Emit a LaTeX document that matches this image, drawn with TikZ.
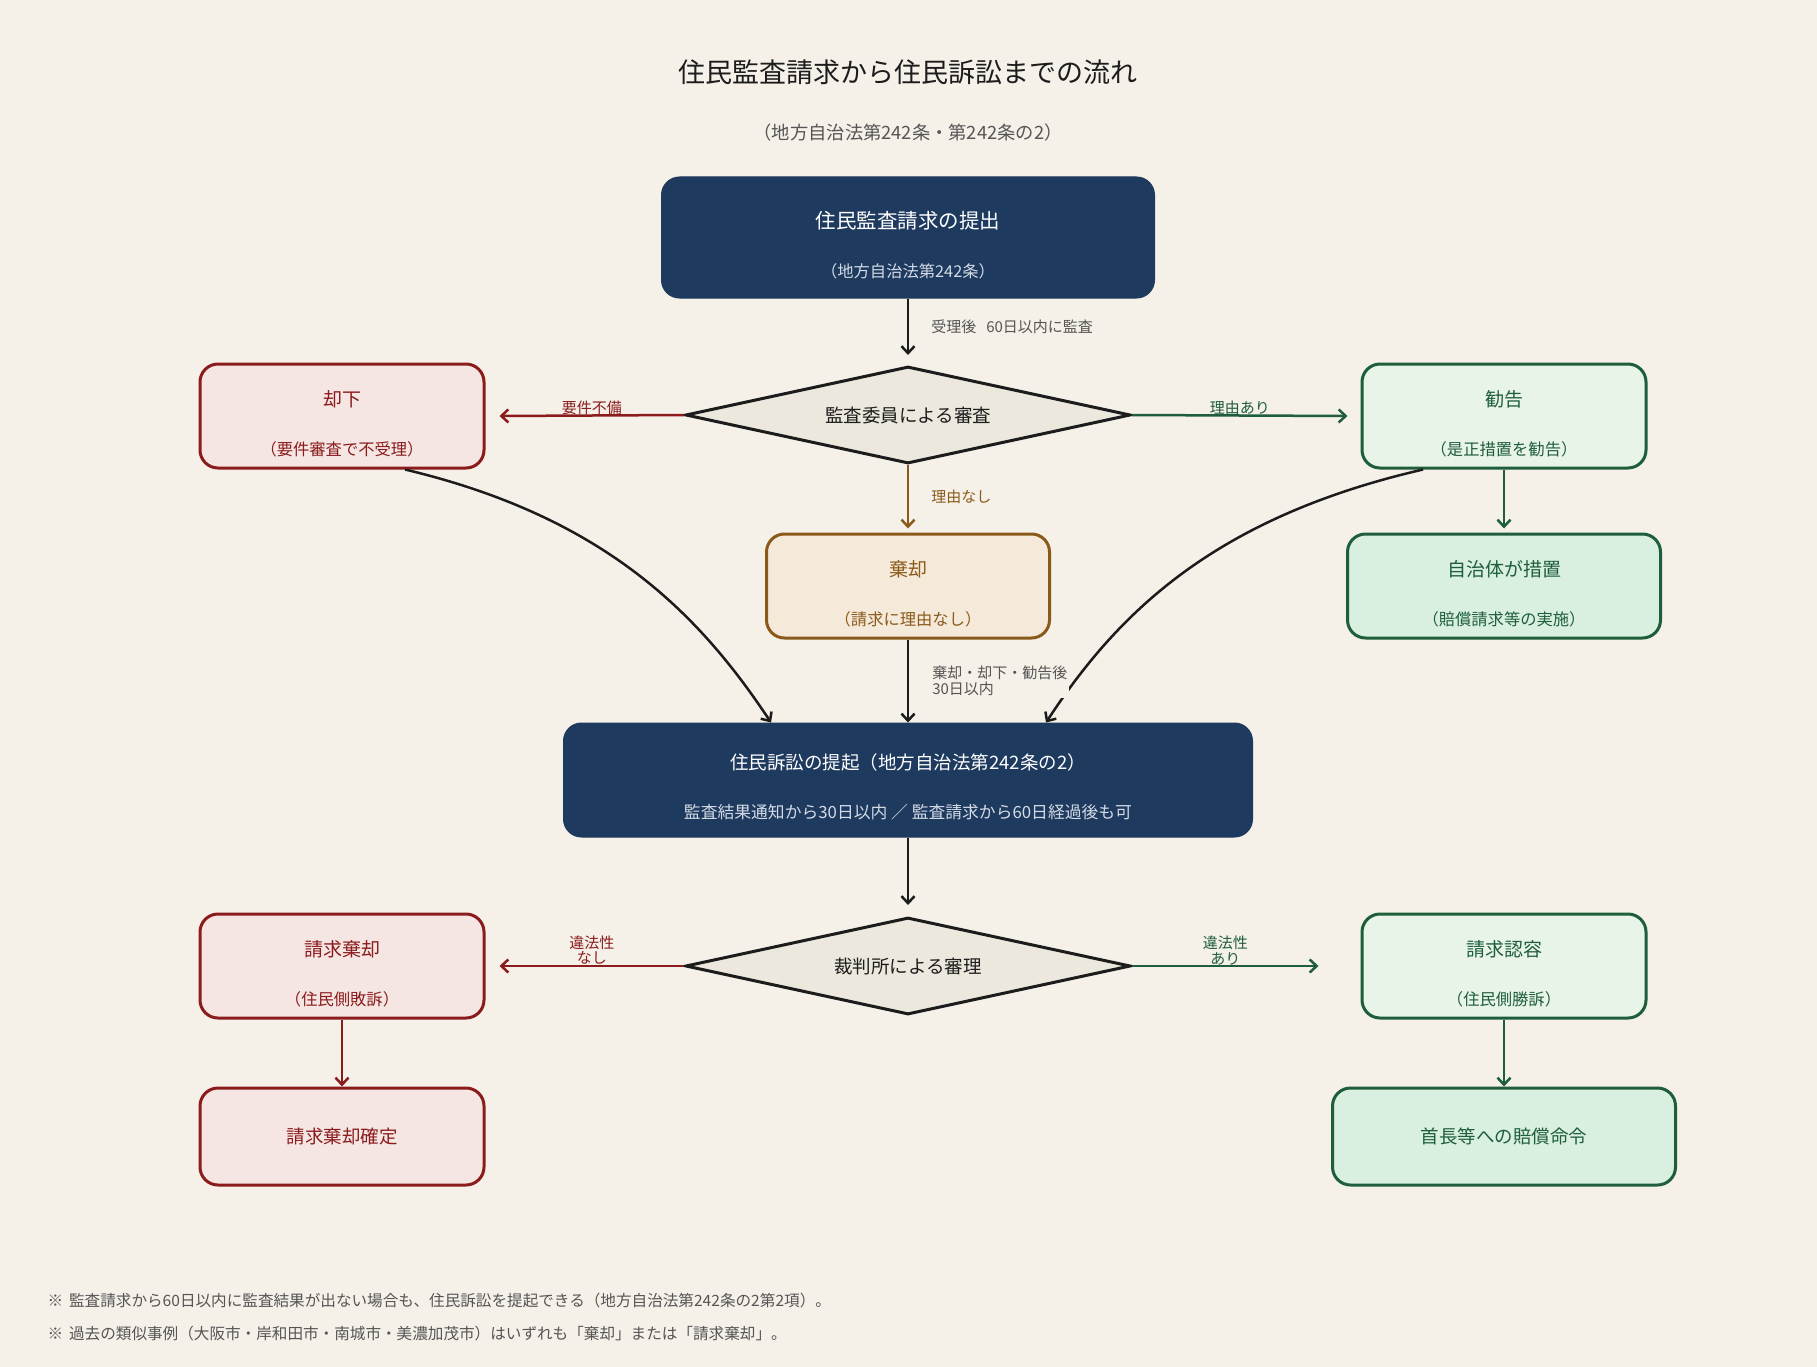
\documentclass[tikz,border=0pt]{standalone}
\usepackage{fontspec}
\setmainfont{Noto Sans CJK JP}
\usetikzlibrary{arrows.meta,shapes.geometric}

\definecolor{bg}{HTML}{F5F0E8}
\definecolor{ink}{HTML}{1C1C1C}
\definecolor{grey}{HTML}{555555}
\definecolor{navy}{HTML}{1F3A5F}
\definecolor{navysub}{HTML}{D3DBE6}
\definecolor{redline}{HTML}{8B1C1C}
\definecolor{redfill}{HTML}{F5E6E4}
\definecolor{greenline}{HTML}{1E5E3B}
\definecolor{greenfill}{HTML}{E8F4E8}
\definecolor{greendeep}{HTML}{D9EFE0}
\definecolor{brownline}{HTML}{8B5A1B}
\definecolor{brownfill}{HTML}{F5EADA}
\definecolor{diafill}{HTML}{EDE8DD}

% title line, sub line (the rule pushes the pair down a little)
\newcommand{\boxtext}[2]{{\fontsize{19}{22}\selectfont\rule{0pt}{31pt}#1}\\[31pt]{#2}}

\begin{document}
\begin{tikzpicture}[x=1pt,y=-1pt,
    box/.style = {rectangle,rounded corners=18pt,line width=3pt,minimum width=284pt,minimum height=104pt,
                  align=center,inner sep=0pt,font=\fontsize{16.3}{18}\selectfont},
    redbox/.style = {box,draw=redline,fill=redfill,text=redline},
    greenbox/.style = {box,draw=greenline,fill=greenfill,text=greenline},
    navybox/.style = {box,draw=navy,fill=navy,text=white,line width=1pt},
    decision/.style = {diamond,aspect=4.6,draw=ink,fill=diafill,line width=3pt,minimum width=445pt,minimum height=97pt,
                       inner sep=0pt,text=ink,font=\fontsize{18.5}{22}\selectfont},
    arr/.style = {-{Straight Barb[length=7pt,width=13pt]},line width=2.5pt},
    lbl/.style = {inner sep=0pt,font=\fontsize{15}{15.5}\selectfont}]

\fill[bg] (0,0) rectangle (1817,1367);
\useasboundingbox (0,0) rectangle (1817,1367);

% heading
\node[text=ink,font=\fontsize{27}{32}\selectfont] (title) at (908,72) {住民監査請求から住民訴訟までの流れ};
\node[text=grey,font=\fontsize{18.3}{22}\selectfont] (subtitle) at (908,133) {（地方自治法第242条・第242条の2）};

% audit stage
\node[navybox,minimum width=493pt,minimum height=121pt] (teishutsu) at (908,237.5)
    {{\fontsize{20.5}{24}\selectfont\rule{0pt}{32pt}住民監査請求の提出}\\[31pt]{\color{navysub}（地方自治法第242条）}};
\node[decision] (shinsa) at (908,415) {監査委員による審査};
\node[redbox] (kyakka) at (342,416) {\boxtext{却下}{（要件審査で不受理）}};
\node[greenbox] (kankoku) at (1504,416) {\boxtext{勧告}{（是正措置を勧告）}};
\node[box,draw=brownline,fill=brownfill,text=brownline,minimum width=283pt] (kikyaku) at (908,586) {\boxtext{棄却}{（請求に理由なし）}};
\node[greenbox,fill=greendeep,minimum width=313pt] (sochi) at (1504,586) {\boxtext{自治体が措置}{（賠償請求等の実施）}};

% lawsuit stage
\node[navybox,minimum width=689pt,minimum height=114pt,font=\fontsize{16.8}{18}\selectfont] (teiki) at (908,780)
    {{\fontsize{18.5}{22}\selectfont\rule{0pt}{30pt}住民訴訟の提起（地方自治法第242条の2）}\\[31pt]{\color{navysub}監査結果通知から30日以内 ／ 監査請求から60日経過後も可}};
\node[decision] (shinri) at (908,966) {裁判所による審理};
\node[redbox] (seikyu) at (342,966) {\boxtext{請求棄却}{（住民側敗訴）}};
\node[greenbox] (ninyo) at (1504,966) {\boxtext{請求認容}{（住民側勝訴）}};
\node[redbox,minimum height=97pt,font=\fontsize{18.5}{22}\selectfont] (kakutei) at (342,1136.5) {請求棄却確定};
\node[greenbox,fill=greendeep,minimum width=343pt,minimum height=97pt,font=\fontsize{18.5}{22}\selectfont] (baisho) at (1504,1136.5) {首長等への賠償命令};

% connectors
\draw[arr,ink] (teishutsu.south) -- ([yshift=10pt]shinsa.north)
    node[midway,lbl,right=22pt,text=grey] {受理後\hspace{10pt}60日以内に監査};
\draw[arr,redline] (shinsa.west) -- ([xshift=14pt]kyakka.east) node[midway,lbl,above,text=redline] {要件不備};
\draw[arr,greenline] (shinsa.east) -- ([xshift=-13pt]kankoku.west) node[midway,lbl,above,text=greenline] {理由あり};
\draw[arr,brownline] (shinsa.south) -- ([yshift=4pt]kikyaku.north)
    node[midway,lbl,right=22pt,text=brownline] {理由なし};
\draw[arr,greenline] (kankoku.south) -- ([yshift=4pt]sochi.north);

\draw[arr,ink] ([xshift=63pt]kyakka.south) .. controls (605,517) and (699,614) .. ([xshift=-137pt]teiki.north);
\draw[arr,ink] ([xshift=-81pt]kankoku.south) .. controls (1213,518) and (1117,614) .. ([xshift=138pt]teiki.north);
\draw[arr,ink] (kikyaku.south) -- (teiki.north)
    node[midway,lbl,right=21pt,align=left,text=grey,fill=bg,inner sep=2pt] {棄却・却下・勧告後\\30日以内};

\draw[arr,ink] (teiki.south) -- ([yshift=11pt]shinri.north);
\draw[arr,redline] (shinri.west) -- ([xshift=14pt]seikyu.east)
    node[midway,lbl,above,align=center,text=redline] {違法性\\なし};
\draw[arr,greenline] (shinri.east) -- ([xshift=-42pt]ninyo.west)
    node[midway,lbl,above,align=center,text=greenline] {違法性\\あり};
\draw[arr,redline] (seikyu.south) -- (kakutei.north);
\draw[arr,greenline] (ninyo.south) -- (baisho.north);

% notes
\node[anchor=west,text=grey,font=\fontsize{15.6}{18}\selectfont] (note1) at (44,1301)
    {※\hspace{6pt}監査請求から60日以内に監査結果が出ない場合も、住民訴訟を提起できる（地方自治法第242条の2第2項）。};
\node[anchor=west,text=grey,font=\fontsize{15.6}{18}\selectfont] (note2) at (44,1334)
    {※\hspace{6pt}過去の類似事例（大阪市・岸和田市・南城市・美濃加茂市）はいずれも「棄却」または「請求棄却」。};
\end{tikzpicture}
\end{document}
